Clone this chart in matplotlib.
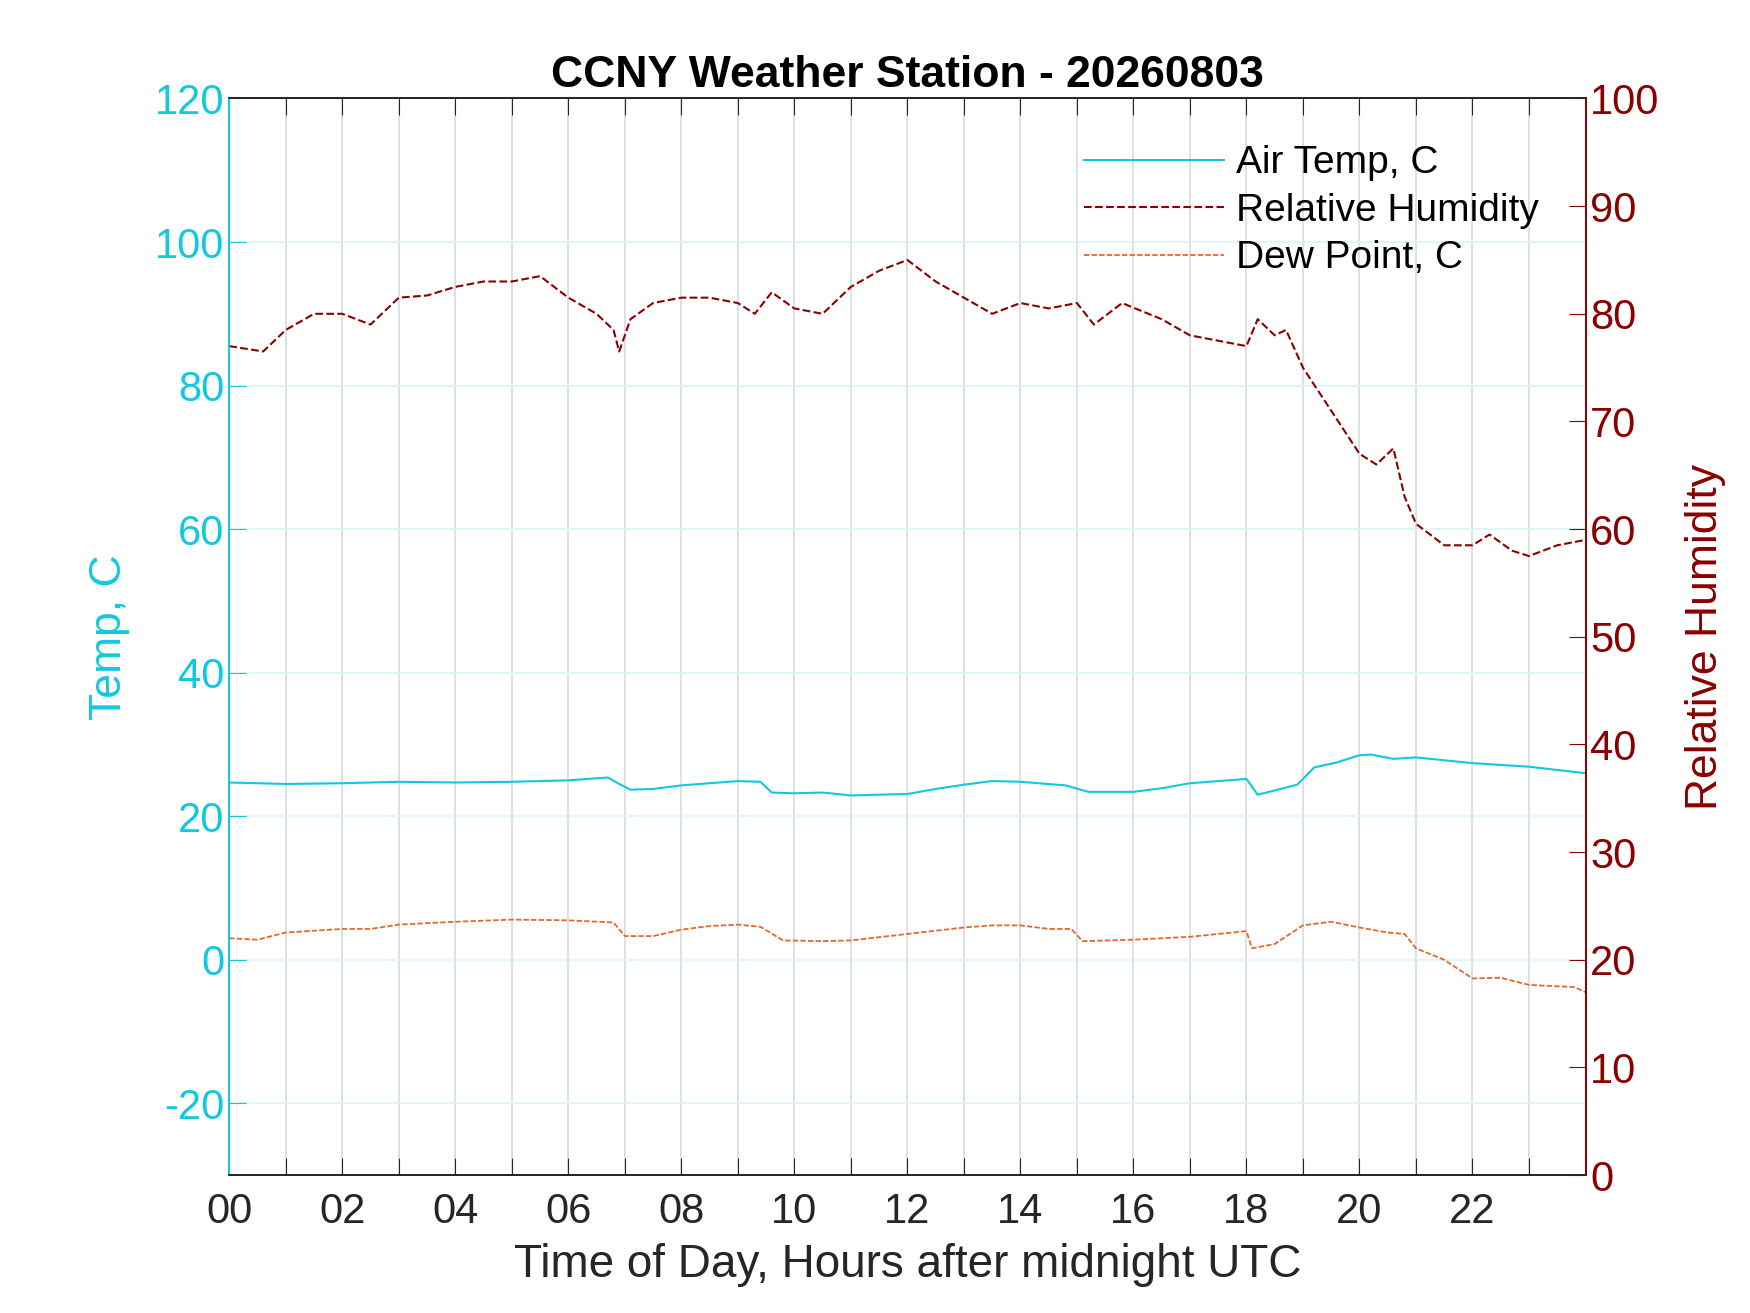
import numpy as np
import matplotlib
matplotlib.use('Agg')
import matplotlib.pyplot as plt

plt.rcParams['font.family'] = ['Liberation Sans', 'DejaVu Sans']
plt.rcParams['axes.unicode_minus'] = False

# hours after midnight, temp (C)
t_hr = [0, 1, 2, 3, 4, 5, 6, 6.7, 6.9, 7.1, 7.5, 8, 9, 9.4, 9.6, 10, 10.5, 11, 12, 12.5,
        13, 13.5, 14, 14.8, 15.2, 16, 16.5, 17, 17.5, 18, 18.2, 18.5, 18.9, 19.2, 19.6,
        20, 20.2, 20.6, 21, 22, 23, 24]
t_air = [24.7, 24.5, 24.6, 24.8, 24.7, 24.8, 25.0, 25.4, 24.5, 23.7, 23.8, 24.3, 24.9, 24.8,
         23.3, 23.2, 23.3, 22.9, 23.1, 23.8, 24.4, 24.9, 24.8, 24.3, 23.4, 23.4, 23.9, 24.6,
         24.9, 25.2, 23.0, 23.6, 24.4, 26.8, 27.5, 28.5, 28.6, 28.0, 28.2, 27.4, 26.9, 26.0]

# dew point (C)
d_hr = [0, 0.5, 1, 2, 2.5, 3, 4, 5, 6, 6.8, 7, 7.5, 8, 8.5, 9, 9.4, 9.8, 10.5, 11, 12, 13,
        13.5, 14, 14.5, 14.9, 15.1, 16, 17, 18, 18.1, 18.5, 19, 19.5, 20, 20.5, 20.8, 21,
        21.5, 22, 22.5, 23, 23.8, 24]
dew = [3.0, 2.8, 3.8, 4.3, 4.3, 4.9, 5.3, 5.6, 5.5, 5.2, 3.3, 3.3, 4.2, 4.7, 4.9, 4.6, 2.7,
       2.6, 2.7, 3.6, 4.5, 4.8, 4.8, 4.3, 4.3, 2.6, 2.8, 3.2, 4.0, 1.6, 2.2, 4.8, 5.3, 4.5,
       3.8, 3.6, 1.6, 0.0, -2.6, -2.5, -3.5, -3.8, -4.5]

# relative humidity (%)
r_hr = [0, 0.6, 1, 1.5, 2, 2.5, 3, 3.5, 4, 4.5, 5, 5.5, 6, 6.5, 6.8, 6.9, 7.1, 7.5, 8, 8.5,
        9, 9.3, 9.6, 10, 10.5, 11, 11.5, 12, 12.5, 13, 13.5, 14, 14.5, 15, 15.3, 15.8, 16.5,
        17, 17.5, 18, 18.2, 18.5, 18.7, 19, 19.5, 20, 20.3, 20.6, 20.8, 21, 21.5, 22, 22.3,
        22.7, 23, 23.5, 24]
rh = [77, 76.5, 78.5, 80, 80, 79, 81.5, 81.7, 82.5, 83, 83, 83.5, 81.5, 80, 78.5, 76.5, 79.5,
      81, 81.5, 81.5, 81, 80, 82, 80.5, 80, 82.5, 84, 85, 83, 81.5, 80, 81, 80.5, 81, 79, 81,
      79.5, 78, 77.5, 77, 79.5, 78, 78.5, 75, 71, 67, 66, 67.5, 63, 60.5, 58.5, 58.5, 59.5,
      58, 57.5, 58.5, 59]

cyan = '#12C8E0'
dred = '#8B0000'
orng = '#E06A2C'

fig = plt.figure(figsize=(17.5, 13.13), dpi=100)
ax = fig.add_axes([0.131, 0.105, 0.775, 0.82])
ax2 = ax.twinx()

l1, = ax.plot(t_hr, t_air, '-', color=cyan, lw=1.5)
l3, = ax.plot(d_hr, dew, color=orng, lw=1.3, dashes=(3, 1.2))
l2, = ax2.plot(r_hr, rh, '--', color=dred, lw=1.5)

ax.set_xlim(0, 24)
ax.set_ylim(-30, 120)
ax2.set_ylim(0, 100)
ax.set_xticks(range(0, 24))
ax.set_xticklabels(['%02d' % h if h % 2 == 0 else '' for h in range(24)])
ax.set_yticks(range(-20, 121, 20))
ax2.set_yticks(range(0, 101, 10))

ax.grid(axis='x', color='#D5DCE2', lw=1.2)
ax.grid(axis='y', color='#D8F4F8', lw=1.2)
ax.set_axisbelow(True)

ax.tick_params(axis='x', direction='in', length=12, labelsize=30, colors='#262626', top=True, pad=12)
ax.tick_params(axis='y', direction='in', length=12, labelsize=30, colors=cyan)
ax2.tick_params(axis='y', direction='in', length=12, labelsize=30, colors=dred)

for a in (ax, ax2):
    a.spines['top'].set_color('#262626')
    a.spines['bottom'].set_color('#262626')
    a.spines['left'].set_color(cyan)
    a.spines['right'].set_color(dred)
    for s in a.spines.values():
        s.set_linewidth(1.3)

ax.set_ylabel('Temp, C', fontsize=32, color=cyan, labelpad=18)
ax2.set_ylabel('Relative Humidity', fontsize=32, color=dred, labelpad=18)
ax.set_xlabel('Time of Day, Hours after midnight UTC', fontsize=33, color='#262626', labelpad=8)
ax.set_title('CCNY Weather Station - 20260803', fontsize=32, fontweight='bold', pad=8)

ax2.legend([l1, l2, l3], ['Air Temp, C', 'Relative Humidity', 'Dew Point, C'],
           loc='upper right', frameon=False, fontsize=28, handlelength=3.6,
           handletextpad=0.3, borderaxespad=0.8, labelspacing=0.3)

fig.savefig('out.png', dpi=100)
